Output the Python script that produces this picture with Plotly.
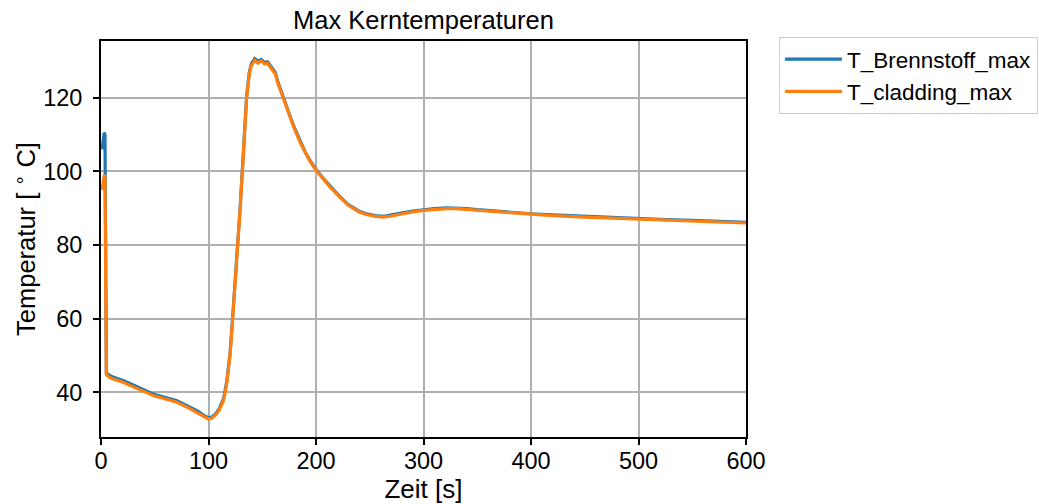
import plotly.graph_objects as go

# Zeitachse in Sekunden
zeit = [1, 2, 3, 3.7, 4.3, 5, 7, 10, 15, 20, 30, 40, 50, 60, 70, 80, 90, 95, 100,
        103, 107, 110, 114, 117, 120, 122.5, 125, 127, 129.5, 131.5, 133.5, 135.5,
        138, 140, 143, 146, 149, 152, 155, 158, 162, 165, 168, 172, 176, 180, 185,
        190, 194, 200, 207, 213, 222, 230, 240, 247, 255, 263, 270, 278, 290, 300,
        310, 322, 330, 340, 350, 362, 380, 400, 420, 450, 475, 500, 525, 550, 575, 600]

# Maximale Brennstofftemperatur [°C]
t_brennstoff_max = [106.0, 108.5, 110.5, 110.0, 46.5, 45.3, 44.8, 44.3, 43.8, 43.3,
                    42.0, 40.6, 39.4, 38.6, 37.8, 36.4, 34.9, 33.9, 33.1,
                    33.3, 34.3, 35.6, 38.3, 43.0, 50.5, 60.5, 70.5, 80.5, 90.5, 100.5,
                    110.5, 120.5, 127.0, 129.3, 130.6, 129.9, 130.4, 129.6, 129.7,
                    128.6, 126.9, 123.9, 121.3, 118.1, 114.9, 111.8, 108.3,
                    105.2, 103.2, 100.5, 98.0, 96.0, 93.2, 91.0, 89.2, 88.5, 88.0,
                    87.8, 88.1, 88.6, 89.2, 89.6,
                    89.9, 90.1, 90.1, 89.9, 89.6, 89.3, 88.9, 88.5, 88.2, 87.8, 87.5,
                    87.2, 86.9, 86.7, 86.5, 86.2]

# Maximale Hüllrohrtemperatur [°C]
t_cladding_max = [95.0, 97.5, 98.8, 99.0, 46.0, 44.8, 44.3, 43.8, 43.3, 42.8,
                  41.5, 40.2, 39.0, 38.2, 37.4, 36.0, 34.5, 33.6, 32.8,
                  33.0, 34.0, 35.2, 37.8, 42.5, 50.0, 60.0, 70.0, 80.0, 90.0, 100.0,
                  110.0, 120.0, 126.5, 128.8, 130.2, 129.4, 130.0, 129.2, 129.3,
                  128.2, 126.5, 123.5, 121.0, 117.8, 114.6, 111.5, 108.0,
                  105.0, 103.0, 100.3, 97.8, 95.8, 93.0, 90.8, 89.0, 88.3, 87.8,
                  87.6, 87.9, 88.4, 89.0, 89.4,
                  89.7, 89.9, 89.9, 89.7, 89.4, 89.1, 88.7, 88.3, 88.0, 87.6, 87.3,
                  87.0, 86.7, 86.5, 86.3, 86.0]

x_ticks = [0, 100, 200, 300, 400, 500, 600]
y_ticks = [40, 60, 80, 100, 120]

FONT = "Liberation Sans, Arial, sans-serif"

fig = go.Figure()
fig.add_trace(go.Scatter(x=zeit, y=t_brennstoff_max, mode="lines", name="T_Brennstoff_max",
                         line=dict(color="#1f77b4", width=3.2)))
fig.add_trace(go.Scatter(x=zeit, y=t_cladding_max, mode="lines", name="T_cladding_max",
                         line=dict(color="#ff7f0e", width=3.2)))

axis_common = dict(
    showline=True, linecolor="black", linewidth=1.8, mirror=True,
    showgrid=True, gridcolor="#b0b0b0", gridwidth=1.6,
    ticks="outside", ticklen=6, tickwidth=1.6, tickcolor="black",
    tickfont=dict(family=FONT, size=23.5, color="black"),
    zeroline=False, automargin=False,
)

fig.update_xaxes(range=[0, 600], tickvals=x_ticks, ticklabelstandoff=-4,
                 title=dict(text="Zeit [s]", font=dict(family=FONT, size=26, color="black"), standoff=8),
                 **axis_common)
fig.update_yaxes(range=[27.9, 135.4], tickvals=y_ticks, ticklabelstandoff=6,
                 title=dict(text="Temperatur [ <sup>∘</sup> C]", font=dict(family=FONT, size=25.5, color="black"), standoff=0),
                 **axis_common)

fig.update_layout(
    width=1039, height=504,
    margin=dict(l=101, r=293, t=41, b=67, autoexpand=False),
    paper_bgcolor="white", plot_bgcolor="white",
    title=dict(text="Max Kerntemperaturen", x=(101 + 746) / 2 / 1039, xanchor="center",
               y=1 - 20 / 504, yanchor="middle",
               font=dict(family=FONT, size=25.5, color="black")),
    legend=dict(x=1.051, xanchor="left", y=1.01, yanchor="top",
                bordercolor="#cccccc", borderwidth=1, bgcolor="white",
                font=dict(family=FONT, size=22.5, color="black"),
                itemwidth=57, tracegroupgap=4),
    showlegend=True,
)

fig.write_html("out.html", config={"displayModeBar": False})
